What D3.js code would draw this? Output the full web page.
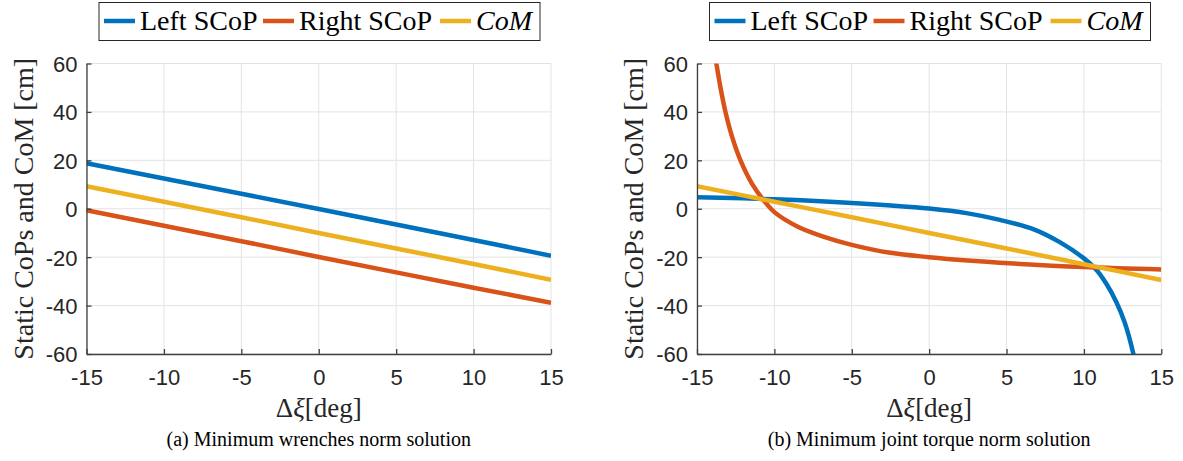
<!DOCTYPE html>
<html>
<head>
<meta charset="utf-8">
<script src="https://cdn.jsdelivr.net/npm/d3@7"></script>
<style>
  body { margin: 0; background: #fff; }
  .tick text { font-family: "Liberation Sans", Arial, sans-serif; }
  .serif { font-family: "Liberation Serif", "DejaVu Serif", "Noto Serif", Tinos, "Times New Roman", Times, FreeSerif, "Nimbus Roman", serif; }
</style>
</head>
<body>
<div id="chart"></div>
<script>
// Static CoPs and CoM vs. delta xi, two solutions

const xTicks = [-15, -10, -5, 0, 5, 10, 15];
const yTicks = [-60, -40, -20, 0, 20, 40, 60];
const seriesNames = ["Left SCoP", "Right SCoP", "CoM"];
const colors = ["#0072BD", "#D95319", "#EDB120"];

// (a) minimum wrenches norm
const aX = [-15, -10, -5, 0, 5, 10, 15];
const aLeft = [18.8, 12.5, 6.2, -0.1, -6.5, -12.9, -19.4];
const aRight = [-0.6, -7.0, -13.4, -19.9, -26.3, -32.6, -38.8];
const aCoM = [9.3, 2.9, -3.5, -10.0, -16.4, -22.8, -29.3];

// (b) minimum joint torque norm
const bLeftX = [-15, -10, -5, 0, 2.5, 4.57, 6.72, 8.44, 10, 10.8, 11.45, 12.1, 12.63, 13.17, 13.25];
const bLeftY = [4.8, 3.9, 2.4, 0.1, -1.9, -4.6, -8.4, -13.8, -20.5, -25.2, -31, -38.6, -46.9, -59.3, -62];
const bRightX = [-13.88, -13.75, -13.49, -13.16, -12.73, -12.19, -11.44, -10.68, -10, -8.52, -6.79, -5, -2.5, 0, 2.5, 4.57, 10, 15];
const bRightY = [65, 60, 50.3, 40, 29.7, 20, 10.3, 3.4, -1.4, -7.3, -11.6, -14.9, -18.2, -20, -21.4, -22.3, -24.1, -25.1];
const bCoMX = [-15, -10, -5, 0, 5, 10, 15];
const bCoMY = [9.3, 2.9, -3.5, -10.0, -16.4, -22.9, -29.4];

const W = 1183, H = 461;
const plotTop = 63.5, plotBottom = 354;

const svg = d3.select("#chart").append("svg")
  .attr("width", W).attr("height", H);

const panels = [
  {
    left: 86.5, right: 551,
    caption: "(a) Minimum wrenches norm solution",
    series: [
      { xs: aX, ys: aLeft },
      { xs: aX, ys: aRight },
      { xs: aX, ys: aCoM }
    ],
    curve: d3.curveLinear
  },
  {
    left: 697, right: 1161.3,
    caption: "(b) Minimum joint torque norm solution",
    series: [
      { xs: bLeftX, ys: bLeftY },
      { xs: bRightX, ys: bRightY },
      { xs: bCoMX, ys: bCoMY }
    ],
    curve: d3.curveCatmullRom.alpha(0.5)
  }
];

panels.forEach((p, pi) => {
  const x = d3.scaleLinear().domain([-15, 15]).range([p.left, p.right]);
  const y = d3.scaleLinear().domain([-60, 60]).range([plotBottom, plotTop]);
  const g = svg.append("g");

  // grid
  g.append("g").selectAll("line").data(xTicks).join("line")
    .attr("x1", d => x(d)).attr("x2", d => x(d))
    .attr("y1", plotTop).attr("y2", plotBottom)
    .attr("stroke", "#e3e3e3").attr("stroke-width", 1);
  g.append("g").selectAll("line").data(yTicks).join("line")
    .attr("x1", p.left).attr("x2", p.right)
    .attr("y1", d => y(d)).attr("y2", d => y(d))
    .attr("stroke", "#e3e3e3").attr("stroke-width", 1);

  // lines
  const clipId = "clip" + pi;
  svg.append("clipPath").attr("id", clipId).append("rect")
    .attr("x", p.left).attr("y", plotTop)
    .attr("width", p.right - p.left).attr("height", plotBottom - plotTop);

  const line = d3.line().curve(p.curve)
    .x(d => x(d[0])).y(d => y(d[1]));

  p.series.forEach((s, i) => {
    const pts = s.xs.map((v, k) => [v, s.ys[k]]);
    g.append("path")
      .attr("clip-path", "url(#" + clipId + ")")
      .attr("d", line(pts))
      .attr("fill", "none")
      .attr("stroke", colors[i])
      .attr("stroke-width", 4.5)
      .attr("stroke-linejoin", "round");
  });

  // axes (ticks inward, plain hyphen minus)
  const fmt = d => String(d);
  const xAxis = d3.axisBottom(x).tickValues(xTicks).tickFormat(fmt)
    .tickSizeInner(-5).tickSizeOuter(0).tickPadding(15);
  const yAxis = d3.axisLeft(y).tickValues(yTicks).tickFormat(fmt)
    .tickSizeInner(-5).tickSizeOuter(0).tickPadding(9);

  const gx = g.append("g").attr("transform", "translate(0," + plotBottom + ")").call(xAxis);
  const gy = g.append("g").attr("transform", "translate(" + p.left + ",0)").call(yAxis);
  [gx, gy].forEach(a => {
    a.select(".domain").attr("stroke", "#404040").attr("stroke-width", 1.3);
    a.selectAll(".tick line").attr("stroke", "#404040").attr("stroke-width", 1.3);
    a.selectAll(".tick text").attr("fill", "#262626").attr("font-size", 22);
  });
  gy.selectAll(".tick text").attr("dy", "0.36em");

  // axis labels
  const cx = (p.left + p.right) / 2;
  const xl = g.append("text").attr("class", "serif")
    .attr("x", cx).attr("y", 417)
    .attr("text-anchor", "middle")
    .attr("font-size", 27).attr("fill", "#262626");
  xl.append("tspan").text("Δ");
  xl.append("tspan").attr("font-style", "italic").text("ξ");
  xl.append("tspan").text("[deg]");

  g.append("text").attr("class", "serif")
    .attr("transform", "translate(" + (p.left - 54) + "," + ((plotTop + plotBottom) / 2) + ") rotate(-90)")
    .attr("text-anchor", "middle")
    .attr("font-size", 28).attr("fill", "#262626")
    .text("Static CoPs and CoM [cm]");

  // caption
  g.append("text").attr("class", "serif")
    .attr("x", cx).attr("y", 446)
    .attr("text-anchor", "middle")
    .attr("font-size", 20).attr("fill", "#000")
    .text(p.caption);

  // legend
  const lx = p.left + 12.5;
  const lg = g.append("g");
  lg.append("rect")
    .attr("x", lx).attr("y", 2.5)
    .attr("width", 441).attr("height", 38)
    .attr("fill", "#fff").attr("stroke", "#262626").attr("stroke-width", 1);
  const offs = [0, 159, 336];
  seriesNames.forEach((n, i) => {
    const ox = lx + 5 + offs[i];
    lg.append("line")
      .attr("x1", ox).attr("x2", ox + 31)
      .attr("y1", 21).attr("y2", 21)
      .attr("stroke", colors[i]).attr("stroke-width", 4.5);
    lg.append("text").attr("class", "serif")
      .attr("x", ox + 36).attr("y", 30)
      .attr("font-style", i === 2 ? "italic" : "normal")
      .attr("font-size", 28).attr("fill", "#000")
      .text(n);
  });
});
</script>
</body>
</html>
